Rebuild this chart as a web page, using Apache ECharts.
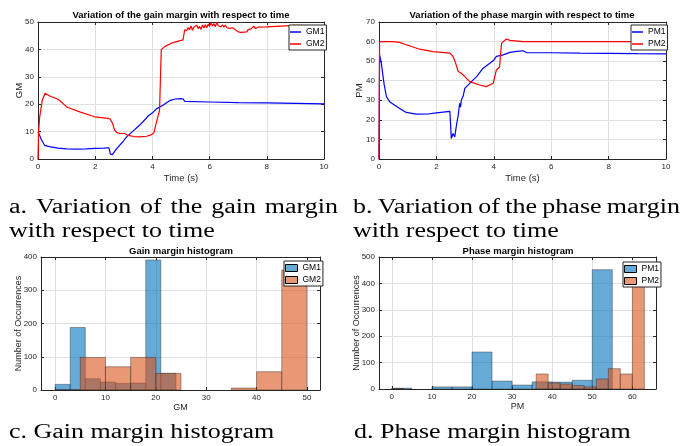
<!DOCTYPE html>
<html>
<head>
<meta charset="utf-8">
<script src="https://cdn.jsdelivr.net/npm/echarts@6/dist/echarts.min.js"></script>
<style>
html, body { margin: 0; padding: 0; background: #fff; }
#chart { width: 683px; height: 446px; }
</style>
</head>
<body>
<div id="chart"></div>
<script>
// gain margin vs time
const gm1Time = [0, 0.05, 0.12, 0.23, 0.4, 0.7, 1.0, 1.34, 1.7, 1.98, 2.3, 2.48, 2.53, 2.6, 2.66, 2.74, 2.85, 2.97, 3.09, 3.3, 3.55, 3.75, 3.85, 4.02, 4.14, 4.37, 4.6, 4.8, 5.0, 5.08, 5.13, 6.0, 7.0, 8.0, 9.0, 10];
const gm1Values = [9.9, 8.8, 7.0, 5.0, 4.5, 4.0, 3.7, 3.6, 3.7, 3.9, 4.0, 4.1, 1.8, 1.6, 2.2, 3.6, 5.0, 6.3, 8.0, 10.0, 12.3, 14.5, 15.7, 17.0, 18.3, 19.6, 21.3, 21.9, 22.0, 21.9, 21.0, 20.8, 20.6, 20.5, 20.3, 20.1];
const gm2Time = [0, 0.02, 0.06, 0.15, 0.25, 0.41, 0.7, 0.85, 1.0, 1.46, 1.98, 2.45, 2.52, 2.6, 2.68, 2.76, 2.86, 3.03, 3.15, 3.35, 3.55, 3.8, 3.95, 4.05, 4.16, 4.25, 4.31, 4.43, 4.72, 5.07, 5.13,
  5.2, 5.25, 5.3, 5.35, 5.4, 5.45, 5.5, 5.55, 5.6, 5.65, 5.7, 5.75, 5.8, 5.85, 5.9, 5.95, 6.0, 6.05, 6.1, 6.15, 6.2, 6.25, 6.3, 6.35, 6.4, 6.45, 6.5, 6.55, 6.6, 6.65, 6.7, 6.75, 6.8, 6.85, 6.9, 6.95,
  7.0, 7.05, 7.1, 7.15, 7.2, 7.25, 7.3, 7.35, 7.4, 7.45, 7.5, 7.55, 7.6, 7.65, 7.7, 8.0, 8.5, 9.0, 9.5, 10];
const gm2Values = [0, 9.9, 15.4, 21.5, 24.0, 23.0, 21.8, 20.5, 19.0, 17.2, 15.4, 14.8, 14.6, 13.2, 10.5, 9.6, 9.3, 9.3, 8.6, 8.2, 8.1, 8.3, 8.8, 9.5, 14.2, 17.8, 39.9, 41.0, 42.5, 43.5, 47.2,
  46.8, 48.0, 47.2, 48.6, 47.0, 48.2, 47.5, 48.8, 47.6, 48.4, 47.3, 48.9, 47.8, 49.0, 47.9, 49.2, 48.4, 49.6, 48.6, 49.4, 48.3, 49.8, 48.7, 49.3, 48.2, 49.0, 48.1, 48.9, 47.9, 48.6, 47.7, 48.4, 47.9, 48.3, 47.2, 46.8,
  46.4, 46.9, 46.2, 46.8, 46.3, 47.0, 46.4, 47.2, 46.6, 47.5, 46.9, 48.5, 47.6, 48.3, 48.1, 48.2, 48.5, 48.8, 48.7, 48.6];

// phase margin vs time
const pm1Time = [0, 0.02, 0.08, 0.18, 0.26, 0.37, 0.55, 0.72, 0.95, 1.3, 1.7, 2.0, 2.47, 2.52, 2.58, 2.64, 2.7, 2.76, 2.81, 2.84, 2.87, 2.93, 2.99, 3.22, 3.4, 3.63, 3.86, 4.0, 4.09, 4.33, 4.56, 4.8, 5.02, 5.14, 6.0, 7.0, 8.0, 9.0, 10];
const pm1Values = [0, 53.2, 49, 38, 31.8, 29.3, 27.5, 25.8, 23.8, 22.9, 23.0, 23.6, 24.3, 10.4, 13, 11.3, 17.3, 22.4, 28.4, 26.5, 30.1, 32, 36.1, 39.5, 42.1, 46.4, 48.9, 50.5, 52.4, 53.2, 54.5, 55.0, 55.3, 54.4, 54.3, 54.1, 54.0, 53.8, 53.7];
const pm2Time = [0, 0.02, 0.49, 0.72, 0.95, 1.42, 1.88, 2.47, 2.58, 2.67, 2.76, 2.87, 2.99, 3.16, 3.51, 3.74, 3.98, 4.09, 4.15, 4.2, 4.27, 4.44, 4.56, 5.02, 6, 10];
const pm2Values = [0, 60, 60, 59.6, 58.4, 56.1, 54.9, 54.1, 52.4, 49, 44.7, 43.8, 42.1, 39.5, 37.8, 37, 38.7, 45.5, 46.4, 47.0, 59.2, 61.3, 60.6, 60.0, 60.0, 60.0];

// histograms (bin edges + counts)
const gm1Edges = [0, 3, 6, 9, 12, 15, 18, 21, 24];
const gm1Counts = [17, 188, 34, 24, 20, 21, 391, 50];
const gm2Edges = [0, 5, 10, 15, 20, 25, 30, 35, 40, 45, 50];
const gm2Counts = [1, 98, 70, 98, 50, 0, 0, 6, 55, 361];
const pm1Edges = [0, 5, 10, 15, 20, 25, 30, 35, 40, 45, 50, 55];
const pm1Counts = [3, 0, 8, 8, 140, 30, 15, 27, 26, 33, 452];
const pm2Edges = [0, 3, 6, 9, 12, 15, 18, 21, 24, 27, 30, 33, 36, 39, 42, 45, 48, 51, 54, 57, 60, 63];
const pm2Counts = [2, 0, 0, 0, 0, 0, 0, 0, 0, 0, 0, 0, 57, 23, 19, 13, 8, 38, 77, 57, 448];

const timeTicks = [0, 2, 4, 6, 8, 10];
const gmTicks = [0, 10, 20, 30, 40, 50];
const pmTicks = [0, 10, 20, 30, 40, 50, 60, 70];
const gmCountTicks = [0, 100, 200, 300, 400];
const pmCountTicks = [0, 100, 200, 300, 400, 500];
const pmHistTicks = [0, 10, 20, 30, 40, 50, 60];

const font = 'Liberation Sans, Arial, sans-serif';
const ink = '#262626';
const blue = 'rgba(0,114,189,0.6)';
const orange = 'rgba(217,83,25,0.6)';

const grids = [
    { left: 38, top: 22, width: 286, height: 137 },
    { left: 379, top: 22, width: 287, height: 137 },
    { left: 41, top: 257, width: 279, height: 133 },
    { left: 379, top: 257, width: 277, height: 132 }
];

function axis(gridIndex, position, cfg, mirror) {
    return {
        type: 'value', gridIndex, position,
        min: cfg.min, max: cfg.max,
        name: mirror ? '' : cfg.name,
        nameLocation: 'middle', nameGap: cfg.nameGap, nameMoveOverlap: false,
        nameTextStyle: { fontFamily: font, fontSize: cfg.nameSize || 9.5, color: ink },
        axisLine: { show: true, onZero: false, lineStyle: { color: ink, width: 1 } },
        axisTick: { show: true, inside: true, length: 3, customValues: cfg.ticks, lineStyle: { color: ink } },
        axisLabel: { show: !mirror, customValues: cfg.ticks, fontFamily: font, fontSize: 8, color: ink, margin: 4 },
        splitLine: { show: !mirror, lineStyle: { color: '#e0e0e0', width: 1 } }
    };
}

const xCfg = [
    { min: 0, max: 10, ticks: timeTicks, name: 'Time (s)', nameGap: 14 },
    { min: 0, max: 10, ticks: timeTicks, name: 'Time (s)', nameGap: 14 },
    { min: -2.8, max: 52.6, ticks: gmTicks, name: 'GM', nameGap: 13, nameSize: 9 },
    { min: -3.2, max: 65.9, ticks: pmHistTicks, name: 'PM', nameGap: 13, nameSize: 9 }
];
const yCfg = [
    { min: 0, max: 50, ticks: gmTicks, name: 'GM', nameGap: 14 },
    { min: 0, max: 70, ticks: pmTicks, name: 'PM', nameGap: 15 },
    { min: 0, max: 400, ticks: gmCountTicks, name: 'Number of Occurrences', nameGap: 18, nameSize: 9 },
    { min: 0, max: 500, ticks: pmCountTicks, name: 'Number of Occurrences', nameGap: 18, nameSize: 9 }
];

const xAxes = [], yAxes = [];
grids.forEach((g, i) => {
    xAxes.push(axis(i, 'bottom', xCfg[i], false), axis(i, 'top', xCfg[i], true));
    yAxes.push(axis(i, 'left', yCfg[i], false), axis(i, 'right', yCfg[i], true));
});

const zip = (t, v) => t.map((x, i) => [x, v[i]]);

function lineSeries(name, t, v, color, gi) {
    return {
        type: 'line', name, data: zip(t, v),
        xAxisIndex: gi * 2, yAxisIndex: gi * 2,
        symbol: 'none', lineStyle: { color, width: 1.2 }, itemStyle: { color },
        z: 3
    };
}

function histSeries(name, edges, counts, color, gi) {
    const data = counts.map((c, i) => [edges[i], edges[i + 1], c]).filter(d => d[2] > 0);
    return {
        type: 'custom', name, data,
        xAxisIndex: gi * 2, yAxisIndex: gi * 2,
        encode: { x: [0, 1], y: 2 },
        itemStyle: { color },
        renderItem: (params, api) => {
            const p0 = api.coord([api.value(0), api.value(2)]);
            const p1 = api.coord([api.value(1), 0]);
            return {
                type: 'rect',
                shape: { x: p0[0], y: p0[1], width: p1[0] - p0[0], height: p1[1] - p0[1] },
                style: { fill: color, stroke: 'rgba(38,38,38,0.4)', lineWidth: 1 }
            };
        }
    };
}

function legend(left, top, names, hist) {
    return {
        left, top, orient: 'vertical', data: names,
        backgroundColor: '#fff', borderColor: ink, borderWidth: 1, borderRadius: 0,
        padding: [2, 2, 1, 1], itemGap: 2,
        itemWidth: hist ? 12 : 11, itemHeight: hist ? 7 : 1.5,
        itemStyle: hist ? { borderColor: '#000', borderWidth: 1 } : { borderWidth: 0 },
        icon: 'rect',
        selectedMode: false,
        formatter: n => n.replace(' hist', ''),
        textStyle: { fontFamily: font, fontSize: 8.5, color: '#000', lineHeight: 10 }
    };
}

function title(text, x, y) {
    return {
        text, left: x, top: y, textAlign: 'center', padding: 0,
        textStyle: { fontFamily: font, fontSize: 9.5, fontWeight: 'bold', color: '#000' }
    };
}

// captions below each panel (serif, stretched a bit like the typeset figure)
const capFont = '20px "Liberation Serif", "Times New Roman", serif';
const capScale = 1.3;
const measureCtx = document.createElement('canvas').getContext('2d');
measureCtx.font = capFont;

function caption(text, x, y) {
    return {
        type: 'text', x, y, scaleX: capScale,
        style: { text, font: capFont, fill: '#000', align: 'left', verticalAlign: 'middle' }
    };
}
// justified line: spread the words between x0 and x1
function justified(text, x0, x1, y) {
    const words = text.split(' ');
    const widths = words.map(w => measureCtx.measureText(w).width * capScale);
    const total = widths.reduce((a, b) => a + b, 0);
    const gap = (x1 - x0 - total) / (words.length - 1);
    let x = x0;
    return words.map((w, i) => {
        const el = caption(w, x, y);
        x += widths[i] + gap;
        return el;
    });
}

const chart = echarts.init(document.getElementById('chart'));
chart.setOption({
    animation: false,
    backgroundColor: '#fff',
    title: [
        title('Variation of the gain margin with respect to time', 181, 10),
        title('Variation of the phase margin with respect to time', 522, 10),
        title('Gain margin histogram', 181, 246),
        title('Phase margin histogram', 518, 246)
    ],
    grid: grids,
    xAxis: xAxes,
    yAxis: yAxes,
    legend: [
        legend(289, 25, ['GM1', 'GM2'], false),
        legend(631, 25, ['PM1', 'PM2'], false),
        legend(284, 261, ['GM1 hist', 'GM2 hist'], true),
        legend(623, 262, ['PM1 hist', 'PM2 hist'], true)
    ],
    series: [
        lineSeries('GM1', gm1Time, gm1Values, '#0000ff', 0),
        lineSeries('GM2', gm2Time, gm2Values, '#ff0000', 0),
        lineSeries('PM1', pm1Time, pm1Values, '#0000ff', 1),
        lineSeries('PM2', pm2Time, pm2Values, '#ff0000', 1),
        histSeries('GM1 hist', gm1Edges, gm1Counts, blue, 2),
        histSeries('GM2 hist', gm2Edges, gm2Counts, orange, 2),
        histSeries('PM1 hist', pm1Edges, pm1Counts, blue, 3),
        histSeries('PM2 hist', pm2Edges, pm2Counts, orange, 3)
    ],
    graphic: [
        ...justified('a. Variation of the gain margin', 9, 338, 208),
        caption('with respect to time', 9, 232),
        ...justified('b. Variation of the phase margin', 353, 680, 208),
        caption('with respect to time', 353, 232),
        caption('c. Gain margin histogram', 9, 433),
        caption('d. Phase margin histogram', 354, 433)
    ]
});
</script>
</body>
</html>
